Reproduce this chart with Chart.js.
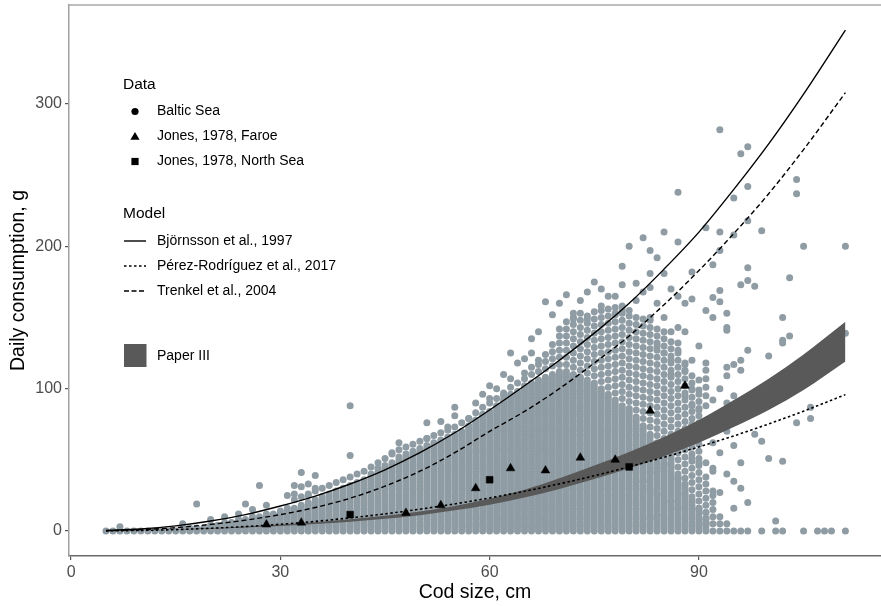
<!DOCTYPE html>
<html>
<head>
<meta charset="utf-8">
<script src="https://cdn.jsdelivr.net/npm/chart.js@4.4.1/dist/chart.umd.min.js"></script>
<style>
  html, body { margin: 0; padding: 0; background: #ffffff; }
  #wrap { position: relative; width: 881px; height: 606px; }
  canvas { display: block; }
</style>
</head>
<body>
<div id="wrap"><canvas id="c" width="881" height="606"></canvas></div>
<script>
// ---------------- DATA ----------------
const xTicks = [0, 30, 60, 90];
const yTicks = [0, 100, 200, 300];

// model curves
const curveX    = [5, 10, 15, 20, 25, 30, 35, 40, 45, 50, 55, 60, 65, 70, 75, 80, 85, 90, 95, 100, 105, 111];
const bjornsson = [0.3, 1.4, 3.6, 7, 11.5, 17.5, 24.5, 33, 43, 55, 69, 85, 102, 120, 139, 160, 184, 210, 240, 272, 307, 352];
const perez     = [0.08, 0.38, 0.96, 1.9, 3.1, 4.7, 6.7, 9.2, 12, 15.3, 19, 23.2, 27.9, 33.1, 38.8, 45.1, 51.8, 59.1, 66.8, 75.2, 84.2, 95.8];
const trenkel   = [0.2, 0.9, 2.3, 4.6, 7.6, 11.5, 16.5, 23, 31.5, 42, 55, 70, 84, 100, 118, 137, 159, 183, 209, 237, 268, 308];
const paperLow  = [0.05, 0.3, 0.8, 1.5, 2.4, 3.5, 4.9, 6.5, 8.5, 11, 14.5, 18.5, 23.5, 29.5, 36.5, 44, 52.5, 62, 73, 85, 99, 119];
const paperHigh = [0.1, 0.45, 1.1, 2, 3.2, 4.6, 6.2, 8.2, 10.6, 13.6, 17.6, 22.6, 29, 37, 46, 55.5, 66, 78, 92, 107, 124, 147];

// Jones, 1978
const faroeX = [28, 33, 48, 53, 58, 63, 68, 73, 78, 83, 88];
const faroeY = [4.5, 5.8, 12.7, 18, 30, 44, 42.5, 51.5, 50, 84.5, 102];
const northSeaX = [40, 60, 80];
const northSeaY = [11.5, 36, 45];

// Baltic Sea: columns per cm, dense core top and looser fringe top (g)
const balticColX = [];
for (let x = 5; x <= 95; x++) balticColX.push(x);
const balticCoreTop = [
  0,0,0,0,0,0,0,0,0,1, 1,2,2,3,3,4,5,6,7,8,
  9,10,11,12,13,14,16,17,19,21, 23,25,27,29,31,33,35,37,40,43,
  46,49,52,54,56,58,60,62,64,66, 68,71,74,78,82,85,88,92,96,99,
  102,105,107,109,111,112,112,110,108,106, 104,100,96,92,88,86,80,74,68,62,
  55,48,40,32,24,16,8,0,0,0, 0
];
const balticFringeTop = [
  0,0,0,0,0,0,0,0,1,1, 2,3,3,4,5,6,7,8,9,10,
  11,12,13,14,16,18,20,22,24,26, 28,30,33,36,38,40,41,42,45,48,
  52,56,58,60,62,64,66,68,70,73, 76,78,80,84,88,90,94,98,102,106,
  110,115,120,128,134,145,150,152,155,155, 158,158,158,158,158,155,150,150,148,145,
  140,135,128,120,110,100,40,25,12,5, 0
];
// scattered Baltic points outside the dense cloud [cm, g]
const balticExtra = [
  [7,3],[16,5],[18,19],[20,8],[22,10],[24,12],[25,19],[26,15],[27,32],[28,18],[31,25],[32,32],[32,26],[33,41],[33,31],[34,33],[34,25],[35,39],[35,30],
  [40,88],[40,53],[44,44],[46,55],[47,62],[51,76],[51,65],[53,77],[54,73],[55,87],[55,81],[57,79],[58,90],[60,93],[61,100],[62,95],[63,125],[63,107],[64,96],[65,111],[65,121],[66,125],[67,120],[68,161],
  [72,153],[72,149],[74,149],[75,175],[76,158],[77,165],[78,153],[79,186],[79,173],[79,155],[80,200],[80,155],[81,174],[82,206],[83,197],[83,181],[83,171],[84,192],[85,210],[85,181],[86,170],[87,238],[87,203],[87,165],[88,160],[89,182],[89,163],[91,213],[91,155],[92,187],[92,164],[92,150],[93,282],[93,210],[93,197],[93,169],[93,161],
  [94,153],[94,143],[94,141],[94,115],[94,109],[95,234],[95,208],[95,117],[95,16],[96,265],[96,173],[96,120],[96,113],[96,48],[97,270],[97,242],[97,218],[97,185],[97,176],[97,127],[98,172],[98,68],[99,211],[99,63],[100,123],[100,51],[101,7],[102,150],[102,134],[102,132],[102,49],[103,178],[103,137],[104,247],[104,237],[104,76],[105,200],[106,87],[106,79],[111,200],[111,139],
  [87,143],[87,132],[87,127],[86,120],[88,118],[88,113],[90,106],[90,99],[89,88],[91,118],[91,113],[91,107],[91,101],[91,95],[91,88],[92,92],[91,48],[92,42],[92,44],[92,28],[93,27],[91,13],[91,9],[91,5],
  [89,51],[90,48],[86,51],[85,47],[84,44],[83,41],[82,35],[83,28],[84,26],[86,21],[87,37],[88,33],[88,26],[87,16],[90,16],[84,11],[83,9],
  [84,130],[85,125],[86,140],[85,150],[84,160],[83,150],[86,110],[88,95],[89,100],[89,120],[90,130],[88,140],[90,70],[89,75],[90,85],[91,70],[92,62],[93,55],[92,75],[93,80],[94,70],[94,90],[93,100],[95,95],[96,85],[95,60],[94,40],[96,30],[97,20],[95,35],
  [70,160],[71,166],[73,162],[74,168],[76,170],[78,165],[81,162],[82,168],[69,152],[67,140],[66,135],[64,118],[62,110],[60,102],[59,96],
  [96,0],[97,0],[99,0],[101,0],[102,0],[105,0],[107,0],[108,0],[109,0],[111,0]
];

// legend texts
const dataTitle = 'Data';
const dataLabels = ['Baltic Sea', 'Jones, 1978, Faroe', 'Jones, 1978, North Sea'];
const modelTitle = 'Model';
const modelLabels = ['Björnsson et al., 1997', 'Pérez-Rodríguez et al., 2017', 'Trenkel et al., 2004'];
const paperLabel = 'Paper III';

// ---------------- BUILD ----------------
const FONT = '"Liberation Sans", Arial, Helvetica, sans-serif';
Chart.defaults.font.family = FONT;

const balticPts = [];
balticColX.forEach((x, i) => {
  for (let y = 0; y <= balticCoreTop[i]; y += 2) balticPts.push({x, y});
  for (let y = balticCoreTop[i] + 5; y <= balticFringeTop[i]; y += 5) balticPts.push({x, y});
});
balticExtra.forEach(([x, y]) => balticPts.push({x, y}));

const toXY = (xs, ys) => xs.map((x, i) => ({x, y: ys[i]}));

const POINT_GRAY = 'rgb(143,156,164)';
const BAND = '#595959';

const zeroPad = s => { s.paddingTop = 0; s.paddingBottom = 0; s.paddingLeft = 0; s.paddingRight = 0; };

const legendPlugin = {
  id: 'ggLegend',
  afterDraw(chart) {
    const ctx = chart.ctx;
    const ca = chart.chartArea;
    ctx.save();
    // top panel border
    ctx.strokeStyle = '#a8a8a8';
    ctx.lineWidth = 1.5;
    ctx.beginPath();
    ctx.moveTo(ca.left, ca.top);
    ctx.lineTo(ca.right, ca.top);
    ctx.stroke();

    ctx.fillStyle = '#000';
    ctx.textBaseline = 'middle';
    ctx.textAlign = 'left';
    ctx.font = '15.5px ' + FONT;
    ctx.fillText(dataTitle, 123, 85);
    ctx.fillText(modelTitle, 123, 214);

    ctx.font = '14px ' + FONT;
    const symX = 135, txtX = 157;
    const dy = [111.5, 136.5, 161.5];
    dataLabels.forEach((t, i) => ctx.fillText(t, txtX, dy[i]));
    // symbols
    ctx.beginPath(); ctx.arc(symX, dy[0], 3.6, 0, Math.PI * 2); ctx.fill();
    ctx.beginPath();
    ctx.moveTo(symX, dy[1] - 4.6); ctx.lineTo(symX + 4.6, dy[1] + 3.2); ctx.lineTo(symX - 4.6, dy[1] + 3.2); ctx.closePath(); ctx.fill();
    ctx.fillRect(symX - 3.6, dy[2] - 3.6, 7.2, 7.2);

    const my = [241, 266, 291];
    modelLabels.forEach((t, i) => ctx.fillText(t, txtX, my[i]));
    const dashes = [[], [2.5, 2.5], [5, 2.5]];
    ctx.strokeStyle = '#000';
    ctx.lineWidth = 1.4;
    dashes.forEach((d, i) => {
      ctx.setLineDash(d);
      ctx.beginPath(); ctx.moveTo(124, my[i]); ctx.lineTo(146, my[i]); ctx.stroke();
    });
    ctx.setLineDash([]);

    ctx.fillStyle = BAND;
    ctx.fillRect(124, 344, 22.5, 23);
    ctx.fillStyle = '#000';
    ctx.fillText(paperLabel, txtX, 356);
    ctx.restore();
  }
};

new Chart(document.getElementById('c'), {
  type: 'scatter',
  data: {
    datasets: [
      { // 0 Baltic
        data: balticPts, order: 10,
        pointRadius: 3.5, pointBackgroundColor: POINT_GRAY, pointBorderWidth: 0, pointBorderColor: POINT_GRAY
      },
      { // 1 paper lower
        data: toXY(curveX, paperLow), showLine: true, order: 5,
        pointRadius: 0, borderWidth: 0, borderColor: 'rgba(0,0,0,0)', fill: false, cubicInterpolationMode: 'monotone'
      },
      { // 2 paper upper
        data: toXY(curveX, paperHigh), showLine: true, order: 4,
        pointRadius: 0, borderWidth: 0, borderColor: 'rgba(0,0,0,0)', backgroundColor: BAND, fill: '-1', cubicInterpolationMode: 'monotone'
      },
      { // 3 Björnsson
        data: toXY(curveX, bjornsson), showLine: true, order: 3,
        pointRadius: 0, borderWidth: 1.4, borderColor: '#000', fill: false, cubicInterpolationMode: 'monotone'
      },
      { // 4 Pérez
        data: toXY(curveX, perez), showLine: true, order: 3,
        pointRadius: 0, borderWidth: 1.6, borderColor: '#000', borderDash: [2.5, 2.5], fill: false, cubicInterpolationMode: 'monotone'
      },
      { // 5 Trenkel
        data: toXY(curveX, trenkel), showLine: true, order: 3,
        pointRadius: 0, borderWidth: 1.4, borderColor: '#000', borderDash: [5, 3], fill: false, cubicInterpolationMode: 'monotone'
      },
      { // 6 Faroe
        data: toXY(faroeX, faroeY), order: 1,
        pointStyle: 'triangle', pointRadius: 5, pointBackgroundColor: '#000', pointBorderColor: '#000', pointBorderWidth: 0.5
      },
      { // 7 North Sea
        data: toXY(northSeaX, northSeaY), order: 1,
        pointStyle: 'rect', pointRadius: 4.8, pointBackgroundColor: '#000', pointBorderColor: '#000', pointBorderWidth: 0.5
      }
    ]
  },
  options: {
    responsive: false,
    animation: false,
    devicePixelRatio: 1,
    events: [],
    layout: { padding: { top: 5, right: 0, bottom: 0, left: 0 }, autoPadding: false },
    plugins: { legend: { display: false }, tooltip: { enabled: false } },
    scales: {
      x: {
        type: 'linear', min: -0.3, max: 116.1,
        afterBuildTicks: s => { s.ticks = xTicks.map(v => ({value: v})); },
        afterFit: s => { s.height = 50; zeroPad(s); },
        grid: { drawOnChartArea: false, tickLength: 4, color: '#555', lineWidth: 1.2 },
        border: { color: '#6a6a6a', width: 1.5 },
        ticks: { color: '#4D4D4D', font: { size: 16 }, padding: 3, maxRotation: 0 },
        title: { display: true, text: 'Cod size, cm', color: '#000', font: { size: 19.5 }, padding: { top: 0, bottom: 1.5 } }
      },
      y: {
        type: 'linear', min: -17.6, max: 369.6,
        afterBuildTicks: s => { s.ticks = yTicks.map(v => ({value: v})); },
        afterFit: s => { s.width = 69; zeroPad(s); },
        grid: { drawOnChartArea: false, tickLength: 4, color: '#555', lineWidth: 1.2 },
        border: { color: '#a0a0a0', width: 1.5 },
        ticks: { color: '#4D4D4D', font: { size: 16 }, padding: 3 },
        title: { display: true, text: 'Daily consumption, g', color: '#000', font: { size: 19.5 }, padding: { top: 7, bottom: 0 } }
      }
    }
  },
  plugins: [legendPlugin]
});
</script>
</body>
</html>
